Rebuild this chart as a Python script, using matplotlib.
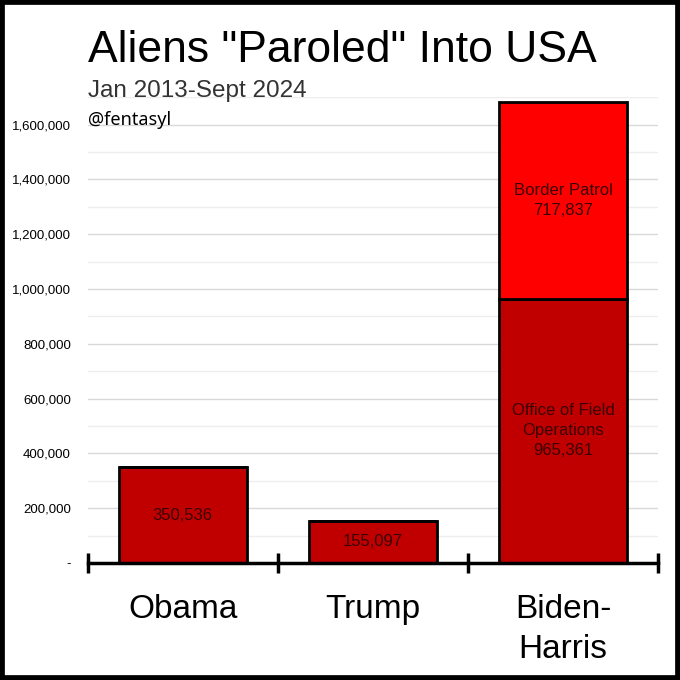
import numpy as np
import matplotlib.pyplot as plt
from matplotlib.patches import Rectangle
from matplotlib.ticker import FuncFormatter, MultipleLocator

plt.rcParams["font.family"] = ["Liberation Sans", "DejaVu Sans"]

presidents = ["Obama", "Trump", "Biden-\nHarris"]
field_ops = [350536, 155097, 965361]
border_patrol = [0, 0, 717837]
inner_labels = ["350,536", "155,097", "Office of Field\nOperations\n965,361"]
bp_labels = ["", "", "Border Patrol\n717,837"]

dark_red = "#c00000"
bright_red = "#ff0000"
label_col = "#3a0000"

fig = plt.figure(figsize=(6.8, 6.8), dpi=100)
ax = fig.add_axes([0.129, 0.172, 0.839, 0.685])

x = np.arange(len(presidents))
ax.bar(x, field_ops, width=0.67, color=dark_red, edgecolor="black", linewidth=2, zorder=3)
ax.bar(x, border_patrol, width=0.67, bottom=field_ops, color=bright_red,
       edgecolor="black", linewidth=2, zorder=3)

for i in range(len(presidents)):
    ax.text(x[i], field_ops[i] / 2, inner_labels[i], ha="center", va="center",
            fontsize=12, color=label_col, zorder=4, linespacing=1.4)
    if border_patrol[i]:
        ax.text(x[i], field_ops[i] + border_patrol[i] / 2, bp_labels[i], ha="center",
                va="center", fontsize=12, color=label_col, zorder=4, linespacing=1.4)

ax.set_xlim(-0.5, 2.5)
ax.set_ylim(0, 1700000)
ax.yaxis.set_major_locator(MultipleLocator(200000))
ax.yaxis.set_minor_locator(MultipleLocator(100000))
ax.yaxis.set_major_formatter(FuncFormatter(lambda v, p: "-" if v == 0 else f"{int(v):,}"))
ax.grid(axis="y", which="major", color="#d9d9d9", linewidth=1, zorder=0)
ax.grid(axis="y", which="minor", color="#eeeeee", linewidth=1, zorder=0)
ax.tick_params(axis="y", which="both", length=0, labelsize=9.5, pad=12)

ax.set_xticks(x)
ax.set_xticklabels(presidents, fontsize=24, linespacing=1.4, va="top")
ax.set_xticks([-0.5, 0.5, 1.5, 2.5], minor=True)
ax.tick_params(axis="x", which="major", length=0, pad=22)
ax.tick_params(axis="x", which="minor", direction="inout", length=15, width=2.5, color="black")

for s in ["top", "right", "left"]:
    ax.spines[s].set_visible(False)
ax.spines["bottom"].set_linewidth(2.5)
ax.spines["bottom"].set_zorder(5)

fig.text(0.129, 0.909, 'Aliens "Paroled" Into USA', fontsize=32, va="baseline", ha="left")
fig.text(0.129, 0.857, "Jan 2013-Sept 2024", fontsize=17.5, va="baseline", ha="left", color="#333333")
fig.text(0.129, 0.816, "@fentasyl", fontsize=13, va="baseline", ha="left", fontweight="semibold",
         family=["Noto Sans", "DejaVu Sans"])

fig.patches.append(Rectangle((0, 0), 1, 1, transform=fig.transFigure, fill=False,
                             edgecolor="black", linewidth=7))

fig.savefig("out.png", dpi=100)
